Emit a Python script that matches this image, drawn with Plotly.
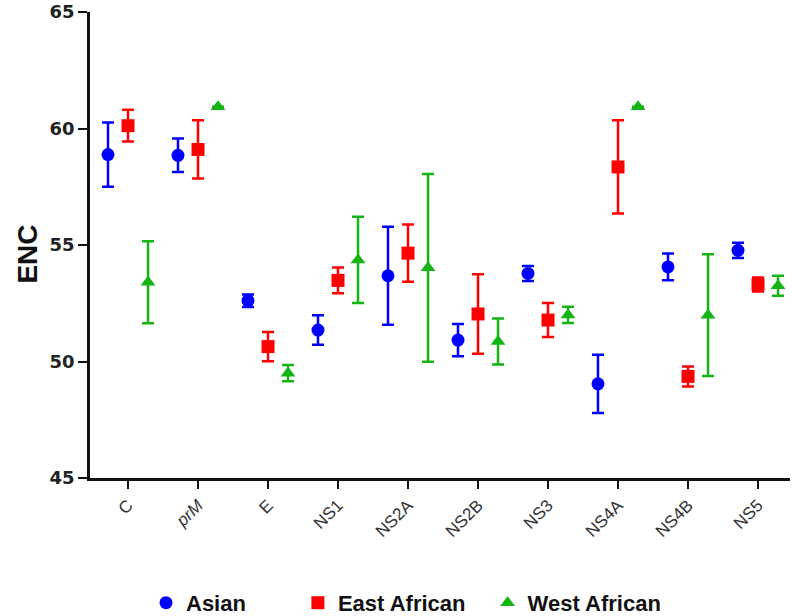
import plotly.graph_objects as go

genes = ["C", "prM", "E", "NS1", "NS2A", "NS2B", "NS3", "NS4A", "NS4B", "NS5"]
tick_labels = ["C", "<i>prM</i>", "E", "NS1", "NS2A", "NS2B", "NS3", "NS4A", "NS4B", "NS5"]

asian_mean = [58.88, 58.85, 52.61, 51.35, 53.68, 50.92, 53.78, 49.04, 54.06, 54.77]
asian_err = [1.38, 0.72, 0.27, 0.63, 2.10, 0.69, 0.32, 1.25, 0.57, 0.33]

east_mean = [60.12, 59.10, 50.64, 53.48, 54.65, 52.04, 51.78, 58.35, 49.36, 53.30]
east_err = [0.68, 1.25, 0.63, 0.55, 1.23, 1.71, 0.73, 2.00, 0.43, 0.30]

west_mean = [53.40, 60.93, 49.50, 54.36, 54.02, 50.86, 52.00, 60.93, 51.99, 53.25]
west_err = [1.76, 0.00, 0.35, 1.85, 4.03, 0.99, 0.35, 0.00, 2.61, 0.43]

FONT = "Liberation Sans, Arial, sans-serif"
BOLDNUM = "DejaVu Sans, Liberation Sans, sans-serif"

series = [
    ("Asian", asian_mean, asian_err, "#0000FF", "circle", -0.286, "legend", 0.080),
    ("East African", east_mean, east_err, "#FF0000", "square", 0.0, "legend2", 0.297),
    ("West African", west_mean, west_err, "#14B414", "triangle-up", 0.286, "legend3", 0.568),
]

fig = go.Figure()
legend_layout = {}
for name, mean, err, color, sym, off, leg, lx in series:
    xs = [i + off for i in range(len(genes))]
    fig.add_trace(go.Scatter(
        x=xs, y=mean, mode="markers", name=name,
        marker=dict(symbol=sym, size=13, color=color),
        error_y=dict(type="data", array=err, visible=True, color=color,
                     thickness=2.5, width=6),
        legend=leg,
    ))
    legend_layout[leg] = dict(
        x=lx, y=-0.268, xanchor="left", yanchor="middle",
        orientation="h", bgcolor="rgba(0,0,0,0)",
        font=dict(family=FONT, size=22, color="#111", weight="bold"),
    )

fig.update_layout(
    width=798, height=616,
    margin=dict(l=90, r=8, t=12, b=138, autoexpand=False),
    plot_bgcolor="white", paper_bgcolor="white",
    showlegend=True,
    **legend_layout,
    xaxis=dict(
        range=[-0.543, 9.457],
        tickmode="array",
        tickvals=list(range(len(genes))),
        ticktext=tick_labels,
        tickangle=-45,
        ticks="outside", ticklen=8, tickwidth=2, tickcolor="#111",
        showline=True, linecolor="#111", linewidth=2.5,
        showgrid=False, zeroline=False, automargin=False,
        tickfont=dict(family=FONT, size=17, color="#333"),
    ),
    yaxis=dict(
        range=[45, 65],
        tickvals=[45, 50, 55, 60, 65],
        ticks="outside", ticklen=9, tickwidth=2, tickcolor="#111",
        showline=True, linecolor="#111", linewidth=2.5,
        showgrid=False, zeroline=False, automargin=False,
        ticklabeloverflow="allow",
        tickfont=dict(family=BOLDNUM, size=18, color="#222", weight="bold"),
    ),
    annotations=[dict(
        text="ENC", xref="paper", yref="paper", x=-0.089, y=0.481,
        xanchor="center", yanchor="middle", textangle=-90, showarrow=False,
        font=dict(family=FONT, size=28, color="#111", weight="bold"),
    )],
)

fig.write_html("out.html", config={"displayModeBar": False},
               post_script="document.body.style.margin='0';")
